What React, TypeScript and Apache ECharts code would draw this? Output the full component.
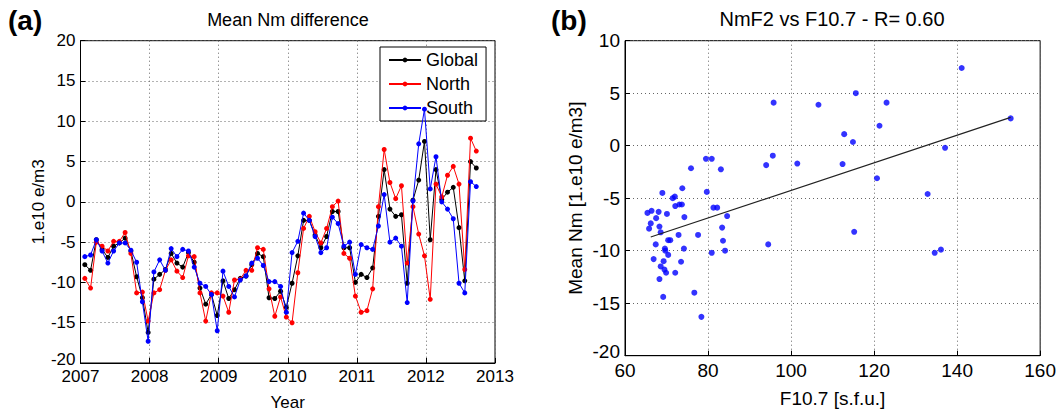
import React, { useEffect, useRef } from "react";
import * as echarts from "echarts";

// ---------- data ----------
const startYear = 2007;
const monthCount = 69; // Jan 2007 .. Sep 2012

const globalNm = [
  -7.8, -8.5, -4.7, -5.9, -6.9, -5.5, -5.1, -4.5, -6.1, -9.3, -11.9, -16.2,
  -9.6, -9.0, -8.4, -6.4, -7.6, -8.1, -6.3, -7.5, -10.7, -12.7, -11.5, -14.1,
  -9.8, -12.0, -10.9, -9.5, -9.2, -7.8, -6.4, -6.8, -11.9, -12.0, -11.1, -13.1,
  -10.1, -6.7, -2.3, -2.3, -4.1, -5.7, -4.3, -1.2, -1.2, -5.7, -5.7, -10.0,
  -9.0, -9.4, -8.2, -1.8, 4.0, -0.9, -1.8, -1.6, -10.1, 0.2, 2.7, 7.5,
  -4.7, 4.0, 0.3, 1.2, 1.8, -3.2, -9.8, 5.0, 4.2,
];
const northNm = [
  -9.5, -10.7, -5.0, -5.5, -6.1, -4.9, -4.9, -3.8, -6.4, -11.3, -11.2, -14.8,
  -11.3, -10.9, -8.5, -7.2, -8.6, -9.4, -6.7, -6.8, -11.3, -14.8, -11.3, -11.3,
  -11.7, -13.7, -9.7, -9.6, -8.5, -8.5, -5.7, -5.9, -10.8, -14.2, -11.8, -14.3,
  -15.0, -8.8, -3.3, -1.8, -3.7, -5.1, -3.3, -0.6, 0.1, -6.4, -7.0, -11.7,
  -13.7, -13.5, -10.8, -0.6, 6.5, 2.4, 0.4, 2.0, -7.6, -0.6, -4.0, -6.7,
  -12.1, 2.2, 0.6, 3.3, 4.4, 2.2, -8.4, 7.9, 6.3,
];
const southNm = [
  -6.8, -6.6, -4.7, -6.1, -7.6, -6.1, -5.1, -5.1, -6.0, -7.5, -12.4, -17.3,
  -8.7, -7.2, -8.5, -5.8, -6.8, -5.9, -6.1, -8.1, -10.1, -10.5, -11.5, -16.0,
  -8.6, -10.5, -11.8, -9.7, -9.2, -7.6, -7.0, -7.9, -9.9, -9.9, -10.5, -13.7,
  -6.3, -4.9, -1.4, -2.3, -4.3, -6.3, -5.7, -1.9, -2.7, -5.5, -5.0, -9.0,
  -5.3, -5.7, -5.9, -3.0, 0.9, -5.0, -4.5, -5.5, -12.5, 0.1, 7.2, 11.5,
  1.6, 5.6, 0.0, -0.9, -2.1, -10.1, -11.3, 2.5, 1.9,
];

// scatter: F10.7 [s.f.u.] vs mean Nm
const f107 = [
  141.1, 115.6, 95.8, 106.6, 123.0, 152.9, 121.3, 112.8, 114.9, 137.1,
  94.0, 95.6, 101.5, 112.4, 120.7, 132.9, 94.5, 115.2, 134.6, 136.1,
  75.9, 79.5, 80.9, 83.1, 79.7, 81.3, 82.2, 84.6, 83.4, 83.6,
  80.9, 84.1, 76.7, 78.4, 77.6,
  65.4, 66.4, 68.1, 65.8, 66.2, 67.5, 69.0, 71.5, 72.0, 73.8,
  70.1, 72.1, 73.1, 73.7, 74.3, 68.3, 68.6, 72.9, 70.4, 70.9,
  67.4, 69.6, 69.7, 74.2, 70.4, 66.9, 69.3, 73.5, 68.6, 69.5,
  69.9, 72.1, 68.3, 69.2,
];
const meanNm = [
  7.4, 5.0, 4.1, 3.9, 4.1, 2.6, 1.9, 1.1, 0.35, -0.2,
  -1.85, -0.95, -1.7, -1.75, -3.1, -4.6, -9.4, -8.2, -10.2, -9.9,
  -2.15, -1.25, -1.25, -2.25, -4.4, -5.9, -5.9, -6.7, -7.8, -9.05,
  -10.2, -10.0, -14.0, -16.3, -8.5,
  -6.4, -6.2, -6.3, -7.9, -7.4, -6.9, -4.5, -5.0, -4.85, -4.05,
  -6.5, -5.75, -5.6, -5.6, -6.8, -7.7, -8.25, -8.5, -9.0, -9.0,
  -9.4, -9.8, -10.0, -9.8, -10.4, -10.8, -11.0, -11.05, -11.5, -11.8,
  -12.1, -12.1, -12.7, -14.4,
];
const fitX = [66.2, 152.9];
const fitY = [-8.7, 2.7];

const xTicksLeft = { min: 2007, max: 2013, interval: 1 };
const yTicksLeft = { min: -20, max: 20, interval: 5 };
const xTicksRight = { min: 60, max: 160, interval: 20 };
const yTicksRight = { min: -20, max: 10, interval: 5 };

const FONT = "'Liberation Sans', Arial, Helvetica, sans-serif";

export default function App() {
  const ref = useRef<HTMLDivElement>(null);

  useEffect(() => {
    document.body.style.margin = "0";
    if (!ref.current) return;
    const chart = echarts.init(ref.current, undefined, { renderer: "svg" });

    const months = Array.from({ length: monthCount }, (_, i) => startYear + (i + 0.75) / 12);
    const pair = (vals: number[]) => vals.map((v, i) => [months[i], v]);

    const axisCommon = (fs: number, liftMin: boolean = false) => ({
      axisLine: { show: true, onZero: false, lineStyle: { color: "#000", width: 1 } },
      axisTick: { show: true, inside: true, length: 5, lineStyle: { color: "#000" } },
      axisLabel: {
        color: "#000", fontSize: fs, fontFamily: FONT, margin: 5,
        formatter: (v: number, idx: number) => (liftMin && idx === 0 ? `{lo|${v}}` : String(v)),
        rich: { lo: { fontSize: fs, fontFamily: FONT, color: "#000", padding: [0, 0, 8, 0] } },
      },
      splitLine: { show: true, lineStyle: { color: "#666", type: [1, 3], width: 1 } },
      nameTextStyle: { color: "#000", fontSize: fs, fontFamily: FONT },
    });

    const option: any = {
      animation: false,
      backgroundColor: "#fff",
      textStyle: { fontFamily: FONT },
      grid: [
        { left: 80.5, top: 40.7, width: 414.5, height: 323.3, show: true, borderColor: "#000", borderWidth: 1 },
        { left: 625, top: 40.7, width: 416, height: 315, show: true, borderColor: "#000", borderWidth: 1 },
      ],
      xAxis: [
        {
          gridIndex: 0, type: "value", ...xTicksLeft, name: "Year", nameLocation: "middle", nameGap: 31,
          ...axisCommon(17),
        },
        {
          gridIndex: 1, type: "value", ...xTicksRight, name: "F10.7 [s.f.u.]", nameLocation: "middle", nameGap: 33,
          ...axisCommon(19),
        },
      ],
      yAxis: [
        {
          gridIndex: 0, type: "value", ...yTicksLeft, name: "1.e10 e/m3", nameLocation: "middle", nameGap: 33,
          nameRotate: 90, ...axisCommon(17, true),
        },
        {
          gridIndex: 1, type: "value", ...yTicksRight, name: "Mean Nm [1.e10 e/m3]", nameLocation: "middle", nameGap: 40,
          nameRotate: 90, ...axisCommon(19, true),
        },
      ],
      legend: {
        data: ["Global", "North", "South"],
        orient: "vertical",
        left: 380,
        top: 47,
        backgroundColor: "#fff",
        borderColor: "#000",
        borderWidth: 1,
        borderRadius: 0,
        padding: [4, 8, 4, 8],
        itemWidth: 32,
        itemHeight: 6,
        itemGap: 6,
        textStyle: { color: "#000", fontSize: 18, fontFamily: FONT },
      },
      graphic: [
        { type: "text", left: 8, top: 6, style: { text: "(a)", font: `bold 28px ${FONT}`, fill: "#000" } },
        { type: "text", left: 551, top: 6, style: { text: "(b)", font: `bold 28px ${FONT}`, fill: "#000" } },
        {
          type: "text", x: 288, y: 11,
          style: { text: "Mean Nm difference", font: `18px ${FONT}`, fill: "#000", textAlign: "center", textVerticalAlign: "top" },
        },
        {
          type: "text", x: 832, y: 9,
          style: { text: "NmF2 vs F10.7 - R= 0.60", font: `20px ${FONT}`, fill: "#000", textAlign: "center", textVerticalAlign: "top" },
        },
      ],
      series: [
        {
          name: "Global", type: "line", xAxisIndex: 0, yAxisIndex: 0, data: pair(globalNm),
          symbol: "circle", symbolSize: 5, color: "#000",
          lineStyle: { color: "#000", width: 1 }, itemStyle: { color: "#000" }, clip: true, z: 2,
        },
        {
          name: "North", type: "line", xAxisIndex: 0, yAxisIndex: 0, data: pair(northNm),
          symbol: "circle", symbolSize: 5, color: "#ff0000",
          lineStyle: { color: "#ff0000", width: 1 }, itemStyle: { color: "#ff0000" }, clip: true, z: 3,
        },
        {
          name: "South", type: "line", xAxisIndex: 0, yAxisIndex: 0, data: pair(southNm),
          symbol: "circle", symbolSize: 5, color: "#0000ff",
          lineStyle: { color: "#0000ff", width: 1 }, itemStyle: { color: "#0000ff" }, clip: true, z: 4,
        },
        {
          name: "scatter", type: "scatter", xAxisIndex: 1, yAxisIndex: 1,
          data: f107.map((f, i) => [f, meanNm[i]]),
          symbol: "circle", symbolSize: 6, itemStyle: { color: "#0000ff" }, z: 3,
        },
        {
          name: "fit", type: "line", xAxisIndex: 1, yAxisIndex: 1,
          data: fitX.map((x, i) => [x, fitY[i]]),
          symbol: "none", lineStyle: { color: "#222", width: 1.2 }, z: 4,
        },
      ],
    };

    chart.setOption(option);
    return () => chart.dispose();
  }, []);

  return <div ref={ref} style={{ width: 1059, height: 416 }} />;
}
